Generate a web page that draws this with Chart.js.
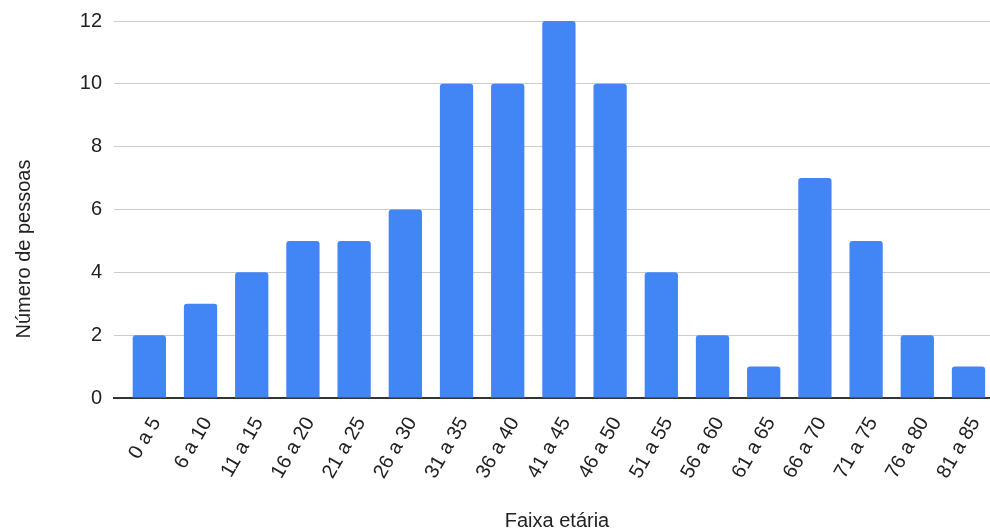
<!DOCTYPE html>
<html>
<head>
<meta charset="utf-8">
<script src="https://cdn.jsdelivr.net/npm/chart.js@4/dist/chart.umd.min.js"></script>
<style>
  html, body { margin: 0; padding: 0; background: #fff; }
  #wrap { width: 990px; height: 530px; position: relative; }
</style>
</head>
<body>
<div id="wrap"><canvas id="c" width="990" height="530"></canvas></div>
<script>
// Age brackets and head counts
const faixas = ['0 a 5', '6 a 10', '11 a 15', '16 a 20', '21 a 25', '26 a 30', '31 a 35', '36 a 40',
                '41 a 45', '46 a 50', '51 a 55', '56 a 60', '61 a 65', '66 a 70', '71 a 75', '76 a 80', '81 a 85'];
const pessoas = [2, 3, 4, 5, 5, 6, 10, 10, 12, 10, 4, 2, 1, 7, 5, 2, 1];
const yTicks = [0, 2, 4, 6, 8, 10, 12];

const tituloX = 'Faixa etária';
const tituloY = 'Número de pessoas';

const FONT = '"Liberation Sans", Arial, sans-serif';
const TEXT = '#222222';

// axis titles placed on the canvas
const axisTitles = {
  id: 'axisTitles',
  afterDraw(chart) {
    const ctx = chart.ctx;
    ctx.save();
    ctx.fillStyle = TEXT;
    ctx.font = '20px ' + FONT;
    ctx.textAlign = 'center';
    ctx.textBaseline = 'alphabetic';
    ctx.fillText(tituloX, 557, 526.5);
    ctx.translate(29.5, 249);
    ctx.rotate(-Math.PI / 2);
    ctx.fillText(tituloY, 0, 0);
    ctx.restore();
  }
};

const pontos = pessoas.map((v, i) => ({ x: i, y: v }));

new Chart(document.getElementById('c'), {
  type: 'bar',
  data: {
    datasets: [{
      data: pontos,
      backgroundColor: '#4285F4',
      borderRadius: 3,
      borderSkipped: 'start',
      categoryPercentage: 1,
      barPercentage: 0.65
    }]
  },
  options: {
    responsive: false,
    animation: false,
    layout: { padding: { top: 21, left: 0, right: 0, bottom: 0 } },
    plugins: { legend: { display: false }, tooltip: { enabled: false } },
    scales: {
      x: {
        type: 'linear',
        offset: false,
        min: -0.69,
        max: 16.42,
        afterFit(s) { s.height = 132; s.paddingLeft = 0; s.paddingRight = 0; },
        grid: { display: false, offset: false },
        border: { display: true, color: '#333333', width: 2 },
        ticks: {
          stepSize: 1,
          includeBounds: false,
          autoSkip: false,
          minRotation: 60,
          maxRotation: 60,
          padding: 7,
          labelOffset: 7,
          color: TEXT,
          font: { family: FONT, size: 20 },
          callback: (v) => (Number.isInteger(v) && v >= 0 && v < faixas.length) ? faixas[v] : ''
        }
      },
      y: {
        min: 0,
        max: 12,
        afterFit(s) { s.width = 114; s.paddingTop = 0; s.paddingBottom = 0; },
        afterBuildTicks(s) { s.ticks = yTicks.map(v => ({ value: v })); },
        grid: {
          color: (c) => c.tick && c.tick.value === 0 ? 'rgba(0,0,0,0)' : '#cccccc',
          lineWidth: 1,
          drawTicks: false
        },
        border: { display: false },
        ticks: {
          padding: 12,
          color: TEXT,
          font: { family: FONT, size: 20 }
        }
      }
    }
  },
  plugins: [axisTitles]
});
</script>
</body>
</html>
